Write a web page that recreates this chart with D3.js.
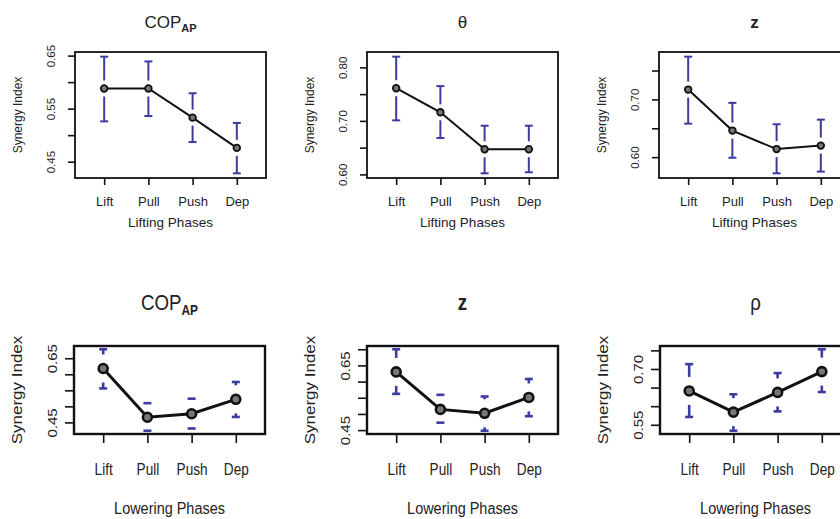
<!DOCTYPE html>
<html>
<head>
<meta charset="utf-8">
<script src="https://cdn.jsdelivr.net/npm/d3@7"></script>
<style>
  body { margin: 0; background: #fff; }
  svg { display: block; }
  text { font-family: "Liberation Sans", Arial, sans-serif; fill: #222; }
</style>
</head>
<body>
<div id="chart"></div>
<script>
const phases = ["Lift", "Pull", "Push", "Dep"];

// lifting phases
const copLiftMean = [0.588, 0.588, 0.533, 0.476];
const copLiftLo = [0.526, 0.536, 0.487, 0.428];
const copLiftHi = [0.648, 0.639, 0.579, 0.523];

const thetaLiftMean = [0.761, 0.716, 0.647, 0.647];
const thetaLiftLo = [0.701, 0.668, 0.602, 0.604];
const thetaLiftHi = [0.820, 0.765, 0.691, 0.691];

const zLiftMean = [0.717, 0.646, 0.614, 0.620];
const zLiftLo = [0.658, 0.599, 0.572, 0.575];
const zLiftHi = [0.774, 0.694, 0.657, 0.665];

// lowering phases
const copLowerMean = [0.618, 0.466, 0.477, 0.522];
const copLowerLo = [0.556, 0.424, 0.431, 0.467];
const copLowerHi = [0.678, 0.510, 0.524, 0.576];

const zLowerMean = [0.630, 0.514, 0.502, 0.551];
const zLowerLo = [0.562, 0.473, 0.448, 0.493];
const zLowerHi = [0.700, 0.559, 0.554, 0.608];

const rhoLowerMean = [0.641, 0.584, 0.637, 0.693];
const rhoLowerLo = [0.571, 0.534, 0.586, 0.638];
const rhoLowerHi = [0.713, 0.632, 0.689, 0.753];

// y ticks and the labels R actually printed
const copLiftTicks = [0.45, 0.50, 0.55, 0.60, 0.65];
const copLiftLabels = ["0.45", "", "0.55", "", "0.65"];
const thetaLiftTicks = [0.60, 0.65, 0.70, 0.75, 0.80];
const thetaLiftLabels = ["0.60", "", "0.70", "", "0.80"];
const zLiftTicks = [0.60, 0.65, 0.70, 0.75];
const zLiftLabels = ["0.60", "", "0.70", ""];
const copLowerTicks = [0.45, 0.50, 0.55, 0.60, 0.65];
const copLowerLabels = ["0.45", "", "", "", "0.65"];
const zLowerTicks = [0.45, 0.50, 0.55, 0.60, 0.65, 0.70];
const zLowerLabels = ["0.45", "", "", "", "0.65", ""];
const rhoLowerTicks = [0.55, 0.60, 0.65, 0.70, 0.75];
const rhoLowerLabels = ["0.55", "", "", "0.70", ""];

const width = 840, height = 519;
const barColor = "#3b3ba0";

const rows = {
  top: {
    boxTop: 52, boxBottom: 178, sx: 1,
    titleBase: 28, titleFont: 17, subFont: 11,
    xTickFont: 13, xTickBase: 206, xTitleFont: 13.5, xTitleBase: 227, xTitle: "Lifting Phases",
    yTickFont: 11.5, yTickOff: 20, yTitleFont: 12, yTitleOff: 53,
    tickLen: 7, boxW: 1.8, lineW: 2, r: 3.3, ptW: 1.8, barW: 2, capW: 4, gap: 8
  },
  bottom: {
    boxTop: 346, boxBottom: 434, sx: 0.85,
    titleBase: 310, titleFont: 22, subFont: 14,
    xTickFont: 16, xTickBase: 475, xTitleFont: 17, xTitleBase: 514, xTitle: "Lowering Phases",
    yTickFont: 15, yTickOff: 17, yTitleFont: 17, yTitleOff: 52,
    tickLen: 9, boxW: 2.4, lineW: 3, r: 4.5, ptW: 2.6, barW: 2.6, capW: 4, gap: 14
  }
};

const panels = [
  { row: "top", left: 75, title: ["COP", "AP"], bold: false, mean: copLiftMean, lo: copLiftLo, hi: copLiftHi, ticks: copLiftTicks, labels: copLiftLabels },
  { row: "top", left: 367, title: ["θ"], bold: false, mean: thetaLiftMean, lo: thetaLiftLo, hi: thetaLiftHi, ticks: thetaLiftTicks, labels: thetaLiftLabels },
  { row: "top", left: 659, title: ["z"], bold: true, mean: zLiftMean, lo: zLiftLo, hi: zLiftHi, ticks: zLiftTicks, labels: zLiftLabels },
  { row: "bottom", left: 74, title: ["COP", "AP"], bold: false, mean: copLowerMean, lo: copLowerLo, hi: copLowerHi, ticks: copLowerTicks, labels: copLowerLabels },
  { row: "bottom", left: 367, title: ["z"], bold: true, mean: zLowerMean, lo: zLowerLo, hi: zLowerHi, ticks: zLowerTicks, labels: zLowerLabels },
  { row: "bottom", left: 660, title: ["ρ"], bold: false, mean: rhoLowerMean, lo: rhoLowerLo, hi: rhoLowerHi, ticks: rhoLowerTicks, labels: rhoLowerLabels }
];

const boxWidth = 191;

const svg = d3.select("#chart")
  .append("svg")
  .attr("width", width)
  .attr("height", height);

panels.forEach(p => {
  const s = rows[p.row];
  const right = p.left + boxWidth;
  const cx = (p.left + right) / 2;

  // R style: xlim 0.5..4.5, ylim from CI extent, both padded 4%
  const x = d3.scaleLinear().domain([0.34, 4.66]).range([p.left, right]);
  const yMin = d3.min(p.lo), yMax = d3.max(p.hi);
  const pad = (yMax - yMin) * 0.04;
  const y = d3.scaleLinear().domain([yMin - pad, yMax + pad]).range([s.boxBottom, s.boxTop]);

  const data = phases.map((ph, i) => ({ i: i + 1, ph, mean: p.mean[i], lo: p.lo[i], hi: p.hi[i] }));
  const g = svg.append("g");

  // y axis
  const yAxis = g.append("g")
    .attr("transform", `translate(${p.left},0)`)
    .call(d3.axisLeft(y).tickValues(p.ticks).tickSize(s.tickLen).tickSizeOuter(0)
      .tickFormat((d, i) => p.labels[i]));
  yAxis.select(".domain").remove();
  yAxis.selectAll(".tick line").attr("stroke", "#111").attr("stroke-width", 1.6);
  yAxis.selectAll(".tick text")
    .attr("x", null).attr("dy", null)
    .attr("text-anchor", "middle")
    .attr("font-size", s.yTickFont)
    .attr("fill", "#222")
    .attr("transform", `translate(${-s.yTickOff},0) scale(${s.sx},1) rotate(-90)`);

  // x axis
  const xAxis = g.append("g")
    .attr("transform", `translate(0,${s.boxBottom})`)
    .call(d3.axisBottom(x).tickValues([1, 2, 3, 4]).tickSize(s.tickLen).tickSizeOuter(0)
      .tickFormat(d => phases[d - 1]));
  xAxis.select(".domain").remove();
  xAxis.selectAll(".tick line").attr("stroke", "#111").attr("stroke-width", 1.6);
  xAxis.selectAll(".tick text")
    .attr("y", null).attr("dy", null)
    .attr("font-size", s.xTickFont)
    .attr("fill", "#222")
    .attr("transform", `translate(0,${s.xTickBase - s.boxBottom}) scale(${s.sx},1)`);

  // box
  g.append("rect")
    .attr("x", p.left).attr("y", s.boxTop)
    .attr("width", boxWidth).attr("height", s.boxBottom - s.boxTop)
    .attr("fill", "none").attr("stroke", "#111").attr("stroke-width", s.boxW);

  // error bars with a gap around the point (gplots::plotCI)
  const bars = g.append("g").attr("stroke", barColor).attr("stroke-width", s.barW);
  data.forEach(d => {
    const px = x(d.i), ym = y(d.mean), yh = y(d.hi), yl = y(d.lo);
    const upEnd = Math.max(yh, ym - s.gap);
    const loEnd = Math.min(yl, ym + s.gap);
    bars.append("line").attr("x1", px).attr("x2", px).attr("y1", yh).attr("y2", upEnd);
    bars.append("line").attr("x1", px).attr("x2", px).attr("y1", yl).attr("y2", loEnd);
    bars.append("line").attr("x1", px - s.capW).attr("x2", px + s.capW).attr("y1", yh).attr("y2", yh);
    bars.append("line").attr("x1", px - s.capW).attr("x2", px + s.capW).attr("y1", yl).attr("y2", yl);
  });

  // mean line and points
  g.append("path")
    .datum(data)
    .attr("fill", "none")
    .attr("stroke", "#111")
    .attr("stroke-width", s.lineW)
    .attr("d", d3.line().x(d => x(d.i)).y(d => y(d.mean)));

  g.selectAll("circle.pt")
    .data(data)
    .join("circle")
    .attr("class", "pt")
    .attr("cx", d => x(d.i))
    .attr("cy", d => y(d.mean))
    .attr("r", s.r)
    .attr("fill", "#777")
    .attr("stroke", "#111")
    .attr("stroke-width", s.ptW);

  // title
  const t = g.append("text")
    .attr("text-anchor", "middle")
    .attr("font-size", s.titleFont)
    .attr("font-weight", p.bold ? "bold" : "normal")
    .attr("transform", `translate(${cx},${s.titleBase}) scale(${s.sx},1)`);
  t.append("tspan").text(p.title[0]);
  if (p.title[1]) {
    t.append("tspan")
      .attr("font-size", s.subFont)
      .attr("font-weight", "bold")
      .attr("dy", s.subFont * 0.35)
      .text(p.title[1]);
  }

  // axis titles
  g.append("text")
    .attr("text-anchor", "middle")
    .attr("font-size", s.xTitleFont)
    .attr("transform", `translate(${cx},${s.xTitleBase}) scale(${s.sx},1)`)
    .text(s.xTitle);

  g.append("text")
    .attr("text-anchor", "middle")
    .attr("font-size", s.yTitleFont)
    .attr("transform", `translate(${p.left - s.yTitleOff},${(s.boxTop + s.boxBottom) / 2}) scale(${s.sx},1) rotate(-90)`)
    .text("Synergy Index");
});
</script>
</body>
</html>
